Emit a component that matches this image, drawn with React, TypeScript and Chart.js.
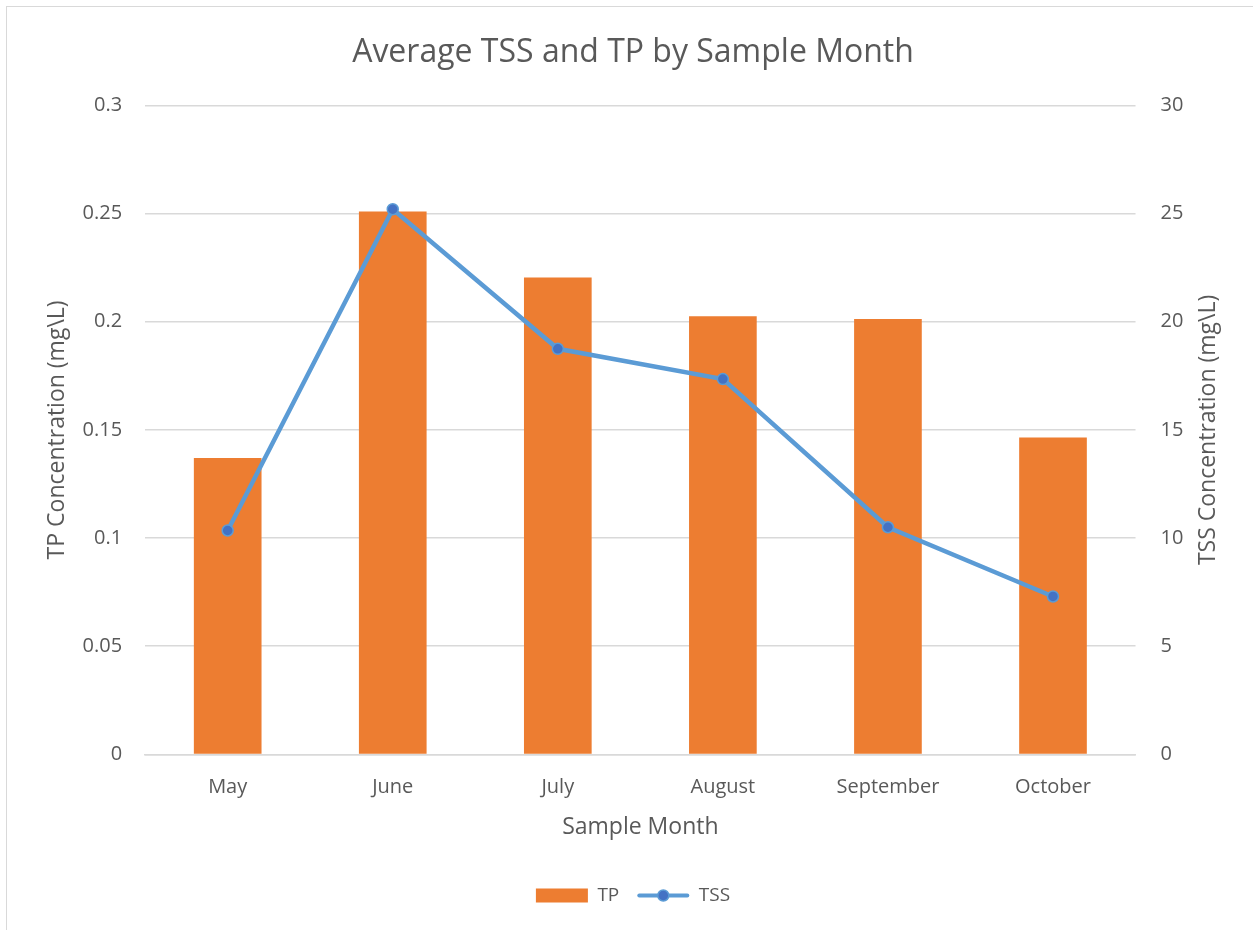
import React, { useEffect, useRef } from "react";
import { Chart, registerables } from "chart.js";

Chart.register(...registerables);

const months = ["May", "June", "July", "August", "September", "October"];
const tpValues = [0.137, 0.251, 0.2205, 0.2025, 0.2013, 0.1465];
const tssValues = [10.35, 25.2, 18.75, 17.35, 10.5, 7.3];
const tpTicks = [0, 0.05, 0.1, 0.15, 0.2, 0.25, 0.3];

const FONT = "'Open Sans', 'Noto Sans', sans-serif";
const TEXT = "#595959";
const RIGHT_TITLE = "TSS Concentration (mg\\L)";
const AXIS_TITLE_SIZE = 23;
const RIGHT_TITLE_PAD_TOP = 4;

const customPlugin = {
  id: "customDraw",
  afterDraw(chart: any) {
    const ctx = chart.ctx;
    // right axis title, reading bottom-to-top
    const s = chart.scales.y1;
    if (s) {
      const lh = AXIS_TITLE_SIZE * 1.2;
      const x = s.right - (RIGHT_TITLE_PAD_TOP + lh / 2);
      const y = (s.top + s.bottom) / 2;
      ctx.save();
      ctx.translate(x, y);
      ctx.rotate(-Math.PI / 2);
      ctx.fillStyle = TEXT;
      ctx.font = `${AXIS_TITLE_SIZE}px ${FONT}`;
      ctx.textAlign = "center";
      ctx.textBaseline = "middle";
      ctx.fillText(RIGHT_TITLE, 0, 0);
      ctx.restore();
    }
    const legend = chart.legend;
    if (!legend || !legend.legendHitBoxes || legend.legendHitBoxes.length < 2) return;
    const box = legend.legendHitBoxes[1];
    const w = legend.options.labels.boxWidth;
    const h = legend.options.labels.boxHeight;
    const x = box.left;
    const cy = box.top + box.height / 2;
    ctx.save();
    ctx.fillStyle = "#ffffff";
    ctx.fillRect(x - 4, cy - h / 2 - 4, w + 8, h + 8);
    ctx.strokeStyle = "#5B9BD5";
    ctx.lineWidth = 4;
    ctx.lineCap = "round";
    ctx.beginPath();
    ctx.moveTo(x + 2, cy);
    ctx.lineTo(x + w - 2, cy);
    ctx.stroke();
    ctx.beginPath();
    ctx.arc(x + w / 2, cy, 5.5, 0, Math.PI * 2);
    ctx.fillStyle = "#4472C4";
    ctx.fill();
    ctx.lineWidth = 1.5;
    ctx.strokeStyle = "#5B9BD5";
    ctx.stroke();
    ctx.restore();
  },
};

export default function App() {
  const ref = useRef<HTMLCanvasElement>(null);
  useEffect(() => {
    if (!ref.current) return;
    const chart = new Chart(ref.current, {
      type: "bar",
      data: {
        labels: months,
        datasets: [
          {
            type: "line",
            label: "TSS",
            data: tssValues,
            yAxisID: "y1",
            borderColor: "#5B9BD5",
            backgroundColor: "#4472C4",
            borderWidth: 4.5,
            pointRadius: 5.5,
            pointBackgroundColor: "#4472C4",
            pointBorderColor: "#5B9BD5",
            pointBorderWidth: 1.5,
            tension: 0,
            order: 0,
          } as any,
          {
            type: "bar",
            label: "TP",
            data: tpValues,
            yAxisID: "y",
            backgroundColor: "#ED7D31",
            borderWidth: 0,
            categoryPercentage: 1,
            barPercentage: 0.41,
            order: 1,
          },
        ],
      },
      options: {
        animation: false,
        responsive: false,
        maintainAspectRatio: false,
        layout: { padding: { left: 33, right: 28, top: 10, bottom: 16 } },
        plugins: {
          title: {
            display: true,
            text: "Average TSS and TP by Sample Month",
            color: TEXT,
            font: { family: FONT, size: 32, weight: "normal" },
            padding: { top: 17, bottom: 33 },
          },
          legend: {
            position: "bottom",
            reverse: true,
            labels: {
              color: TEXT,
              font: { family: FONT, size: 19 },
              boxWidth: 52,
              boxHeight: 14,
              padding: 18,
            },
          },
          tooltip: { enabled: false },
        },
        scales: {
          x: {
            grid: { display: false, drawTicks: true },
            border: { color: "#d9d9d9", width: 1.5 },
            ticks: { color: TEXT, font: { family: FONT, size: 20 }, padding: 13 },
            title: {
              display: true,
              text: "Sample Month",
              color: TEXT,
              font: { family: FONT, size: AXIS_TITLE_SIZE },
              padding: { top: 1, bottom: 27 },
            },
          },
          y: {
            position: "left",
            min: 0,
            max: 0.3,
            afterBuildTicks: (axis: any) => {
              axis.ticks = tpTicks.map((v) => ({ value: v }));
            },
            grid: { color: "#d9d9d9", lineWidth: 1.5, drawTicks: false },
            border: { display: false },
            ticks: {
              color: TEXT,
              font: { family: FONT, size: 20 },
              padding: 23,
              callback: (v: any) => String(Number(v.toFixed(2))),
            },
            title: {
              display: true,
              text: "TP Concentration (mg\\L)",
              color: TEXT,
              font: { family: FONT, size: AXIS_TITLE_SIZE },
              padding: { top: 4, bottom: -12 },
            },
          },
          y1: {
            position: "right",
            min: 0,
            max: 30,
            ticks: { stepSize: 5, color: TEXT, font: { family: FONT, size: 20 }, padding: 25 },
            grid: { drawOnChartArea: false, drawTicks: false },
            border: { display: false },
            title: {
              display: true,
              text: RIGHT_TITLE,
              color: "rgba(0,0,0,0)",
              font: { family: FONT, size: AXIS_TITLE_SIZE },
              padding: { top: RIGHT_TITLE_PAD_TOP, bottom: -14 },
            },
          },
        },
      },
      plugins: [customPlugin],
    });
    return () => chart.destroy();
  }, []);

  return (
    <div
      style={{
        position: "absolute",
        left: 6,
        top: 6,
        width: 1262,
        height: 940,
        borderLeft: "1px solid #d9d9d9",
        borderTop: "1px solid #d9d9d9",
        background: "#fff",
      }}
    >
      <canvas ref={ref} width={1247} height={924} style={{ display: "block" }} />
    </div>
  );
}
